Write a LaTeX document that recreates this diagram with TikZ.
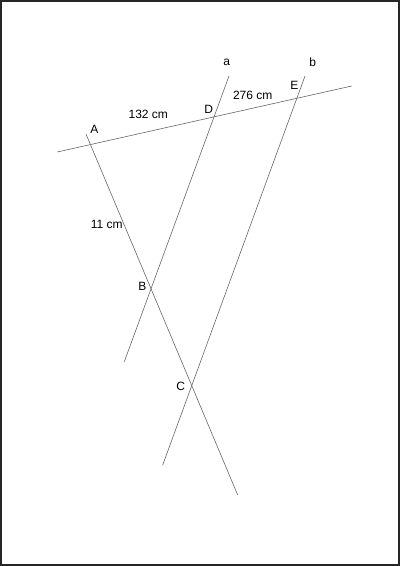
\documentclass[tikz,border=0pt]{standalone}
\usepackage{fontspec}
\setmainfont{Liberation Sans}
\usetikzlibrary{calc}

\begin{document}
\begin{tikzpicture}
	[x=1pt,y=-1pt,every node/.style={inner sep=0pt,
		font=\fontsize{12}{12}\selectfont}]
	\useasboundingbox (0,0) rectangle (400,566);
	\draw[line width=1.6pt,black!85] (0.8,0.8) rectangle (399.2,565.2);
	% end points of the four lines
	\coordinate (t1) at (57.3,152);
	\coordinate (t2) at (351.7,86);
	\coordinate (a1) at (229,76);
	\coordinate (a2) at (124.3,361.7);
	\coordinate (b1) at (305,76);
	\coordinate (b2) at (162.7,465);
	\coordinate (s1) at (86,134);
	\coordinate (s2) at (237.7,495);
	\path[draw=black!60,line width=0.6pt]
	\foreach \startNode/\endNode in {t1/t2,a1/a2,b1/b2,s1/s2}
	{
		(\startNode) edge (\endNode)
	};
	% labels
	\node (la) at (226.7,62.7) {a};
	\node (lb) at (312.7,62.7) {b};
	\node (lA) at (94.3,129) {A};
	\node (lD) at (208.7,109.3) {D};
	\node (lE) at (294.3,85.7) {E};
	\node (lB) at (142.3,286) {B};
	\node (lC) at (180.7,386) {C};
	\node (l132) at (148.3,114) {132 cm};
	\node (l276) at (252.7,95) {276 cm};
	\node (l11) at (106.7,224) {11 cm};
\end{tikzpicture}
\end{document}
